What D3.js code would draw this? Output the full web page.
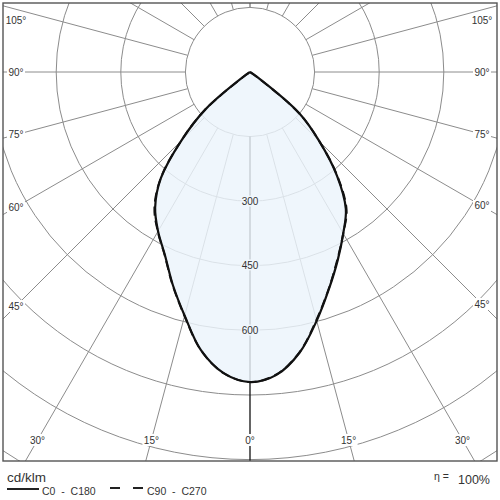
<!DOCTYPE html>
<html>
<head>
<meta charset="utf-8">
<script src="https://cdn.jsdelivr.net/npm/d3@7"></script>
<style>
    html, body { margin: 0; padding: 0; background: #fff; }
    svg { display: block; font-family: "Liberation Sans", Arial, sans-serif; }
    .pre { white-space: pre; }
</style>
</head>
<body>
<div id="chart"></div>
<script>
// gamma angles, 0 = straight down
var angles = [0, 5, 10, 15, 20, 25, 30, 35, 40, 45, 50, 55, 60, 65, 70, 75, 80, 85, 90];

// cd/klm per C-plane
var c0   = [720, 706, 662, 598, 536, 482, 433, 388, 314, 228, 150, 20, 0, 0, 0, 0, 0, 0, 0];
var c180 = [720, 702, 656, 586, 525, 468, 427, 384, 322, 226, 135, 12, 0, 0, 0, 0, 0, 0, 0];
var c90  = [720, 705, 661, 596, 535, 480, 433, 391, 316, 228, 148, 18, 0, 0, 0, 0, 0, 0, 0];
var c270 = [720, 702, 656, 587, 526, 469, 428, 387, 323, 226, 136, 12, 0, 0, 0, 0, 0, 0, 0];

var ringValues = [150, 300, 450, 600, 750, 900, 1050];
var ringLabels = [300, 450, 600];
var rayAngles = d3.range(-180, 181, 15);
var sideLabels = [45, 60, 75, 90, 105];
var bottomLabels = [0, 15, 30];

var W = 500, H = 500;
var frame = {x0: 3, y0: 3, x1: 497, y1: 461};
var cx = 250, cy = 72;

var rScale = d3.scaleLinear().domain([0, 150]).range([0, 64.6]);

var svg = d3.select("#chart").append("svg")
    .attr("width", W)
    .attr("height", H);

svg.append("clipPath").attr("id", "frameClip")
    .append("rect")
    .attr("x", frame.x0).attr("y", frame.y0)
    .attr("width", frame.x1 - frame.x0).attr("height", frame.y1 - frame.y0);

// gamma (deg, +right) -> d3 radial angle (0 = up, clockwise)
function radialAngle(g) { return Math.PI - g * Math.PI / 180; }
function pt(g, r) {
    var a = g * Math.PI / 180;
    return [cx + r * Math.sin(a), cy + r * Math.cos(a)];
}

var grid = svg.append("g").attr("clip-path", "url(#frameClip)");

grid.selectAll("circle.ring")
    .data(ringValues)
    .enter().append("circle")
    .attr("class", "ring")
    .attr("cx", cx).attr("cy", cy)
    .attr("r", function(d) { return rScale(d); })
    .style("fill", "none")
    .style("stroke", "#8c8c8c")
    .style("stroke-width", 1);

grid.selectAll("line.ray")
    .data(rayAngles)
    .enter().append("line")
    .attr("class", "ray")
    .attr("x1", function(d) { return pt(d, rScale(150))[0]; })
    .attr("y1", function(d) { return pt(d, rScale(150))[1]; })
    .attr("x2", function(d) { return pt(d, rScale(1500))[0]; })
    .attr("y2", function(d) { return pt(d, rScale(1500))[1]; })
    .style("stroke", function(d) { return d === 0 ? "#111" : "#8c8c8c"; })
    .style("stroke-width", function(d) { return d === 0 ? 1.3 : 1; });

// build closed curve: right half (C0 side) from 90 down to 0, left half back up
function curvePoints(right, left) {
    var pts = [];
    for (var i = angles.length - 1; i >= 0; i--)
        pts.push({g: angles[i], v: right[i]});
    for (var j = 1; j < angles.length; j++)
        pts.push({g: -angles[j], v: left[j]});
    return pts;
}

var radial = d3.lineRadial()
    .angle(function(d) { return radialAngle(d.g); })
    .radius(function(d) { return rScale(d.v); })
    .curve(d3.curveCatmullRomClosed.alpha(0.5));

var plot = svg.append("g").attr("transform", "translate(" + cx + "," + cy + ")");

plot.append("path")
    .datum(curvePoints(c0, c180))
    .attr("d", radial)
    .style("fill", "rgb(236,244,251)")
    .style("fill-opacity", 0.82)
    .style("stroke", "none");

svg.selectAll("text.ringLabel")
    .data(ringLabels)
    .enter().append("text")
    .attr("class", "ringLabel")
    .attr("x", cx)
    .attr("y", function(d) { return cy + rScale(d); })
    .attr("dy", "0.35em")
    .attr("text-anchor", "middle")
    .style("font-size", "10px")
    .style("fill", "#333")
    .style("stroke", "rgb(240,246,252)")
    .style("stroke-width", 3)
    .style("paint-order", "stroke")
    .text(function(d) { return d; });

plot.append("path")
    .datum(curvePoints(c90, c270))
    .attr("d", radial)
    .style("fill", "none")
    .style("stroke", "#111")
    .style("stroke-width", 2)
    .style("stroke-dasharray", "9,5");

plot.append("path")
    .datum(curvePoints(c0, c180))
    .attr("d", radial)
    .style("fill", "none")
    .style("stroke", "#111")
    .style("stroke-width", 2.2);

// angle labels sit on the rays, near the frame
var labelInset = {x0: 16, x1: 482, yBottom: 440, yTop: 20};
var angleLabels = [];
sideLabels.forEach(function(g) {
    [-1, 1].forEach(function(s) {
        var a = g * Math.PI / 180;
        var x = s < 0 ? labelInset.x0 : labelInset.x1;
        var t = Math.abs(x - cx) / Math.sin(a);
        var y = Math.max(labelInset.yTop, cy + t * Math.cos(a));
        angleLabels.push({g: g, x: x, y: y});
    });
});
bottomLabels.forEach(function(g) {
    var sides = g === 0 ? [1] : [-1, 1];
    sides.forEach(function(s) {
        var a = g * Math.PI / 180;
        var y = labelInset.yBottom;
        var x = cx + s * (y - cy) * Math.tan(a);
        angleLabels.push({g: g, x: x, y: y});
    });
});

var lab = svg.selectAll("g.angleLabel")
    .data(angleLabels)
    .enter().append("g")
    .attr("class", "angleLabel")
    .attr("transform", function(d) { return "translate(" + d.x + "," + d.y + ")"; });

lab.append("rect")
    .attr("x", function(d) { return d.g >= 100 ? -12 : -9; })
    .attr("y", -6)
    .attr("width", function(d) { return d.g >= 100 ? 24 : 18; })
    .attr("height", 12)
    .style("fill", "#fff");

lab.append("text")
    .attr("text-anchor", "middle")
    .attr("dy", "0.35em")
    .style("font-size", "10px")
    .style("fill", "#333")
    .text(function(d) { return d.g + "°"; });

// frame
svg.append("rect")
    .attr("x", frame.x0).attr("y", frame.y0)
    .attr("width", frame.x1 - frame.x0).attr("height", frame.y1 - frame.y0)
    .style("fill", "none")
    .style("stroke", "#555")
    .style("stroke-width", 1.4);

// legend
var legend = svg.append("g").style("fill", "#333");

legend.append("text")
    .attr("x", 7).attr("y", 482)
    .style("font-size", "13.5px")
    .text("cd/klm");

legend.append("line")
    .attr("x1", 7).attr("x2", 39)
    .attr("y1", 489).attr("y2", 489)
    .style("stroke", "#222").style("stroke-width", 2);

legend.append("text")
    .attr("class", "pre")
    .attr("x", 42).attr("y", 495)
    .style("font-size", "10.5px")
    .text("C0  -  C180");

legend.append("line")
    .attr("x1", 110).attr("x2", 143)
    .attr("y1", 488).attr("y2", 488)
    .style("stroke", "#222").style("stroke-width", 2)
    .style("stroke-dasharray", "10,13");

legend.append("text")
    .attr("class", "pre")
    .attr("x", 147).attr("y", 495)
    .style("font-size", "10.5px")
    .text("C90  -  C270");

legend.append("text")
    .attr("x", 434).attr("y", 480)
    .style("font-size", "10.5px")
    .text("η =");

legend.append("text")
    .attr("x", 490).attr("y", 484)
    .attr("text-anchor", "end")
    .style("font-size", "12.5px")
    .text("100%");
</script>
</body>
</html>
